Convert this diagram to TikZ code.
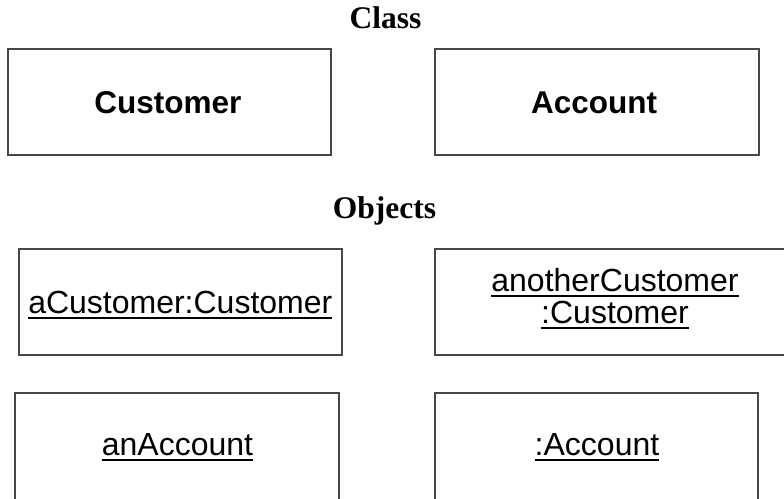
\documentclass[tikz,border=0pt]{standalone}
\usepackage{fontspec}
\setmainfont{Liberation Serif}
\setsansfont{Liberation Sans}
% underlined object name: rule 4pt below the baseline, 2pt thick
\newcommand\objname[1]{\vtop{\hbox{#1}\kern4pt\hrule height 2pt}}
\begin{document}
\begin{tikzpicture}[x=1pt,y=-1pt,
  umlbox/.style={draw=black!72,line width=1.1pt,rectangle,inner sep=0pt,
                 minimum height=106pt},
  heading/.style={font=\fontsize{31.5}{36}\selectfont\rmfamily\bfseries,
                  anchor=base,inner sep=0pt},
  classname/.style={font=\fontsize{31.5}{36}\selectfont\sffamily\bfseries,
                    anchor=base,inner sep=0pt},
  objlabel/.style={font=\fontsize{32}{36}\selectfont\sffamily,
                   anchor=base,inner sep=0pt}]
\useasboundingbox (0,0) rectangle (784,498);

% headings
\node[heading] (hclass) at (385.5,28) {Class};
\node[heading] (hobj) at (384.5,218) {Objects};

% classes
\node[umlbox,minimum width=323pt] (customer) at (169.5,102) {};
\node[umlbox,minimum width=324pt] (account) at (597,102) {};
\node[classname] (customerlbl) at (168,113) {Customer};
\node[classname] (accountlbl) at (594,113) {Account};

% objects (the lower row runs past the bottom edge)
\node[umlbox,minimum width=323pt] (acust) at (180.5,302) {};
\node[umlbox,minimum width=360pt] (another) at (615,302) {};
\node[umlbox,minimum width=324pt,minimum height=116pt] (anacct) at (177,451) {};
\node[umlbox,minimum width=323pt,minimum height=116pt] (anonacct) at (596.5,451) {};

\node[objlabel] (acustlbl) at (180.3,313) {\objname{aCustomer:Customer}};
\node[objlabel] (anotherlbla) at (615,291) {\objname{anotherCustomer}};
\node[objlabel] (anotherlblb) at (615,323) {\objname{:Customer}};
\node[objlabel] (anacctlbl) at (177.5,455) {\objname{anAccount}};
\node[objlabel] (anonacctlbl) at (597,455) {\objname{:Account}};
\end{tikzpicture}
\end{document}
